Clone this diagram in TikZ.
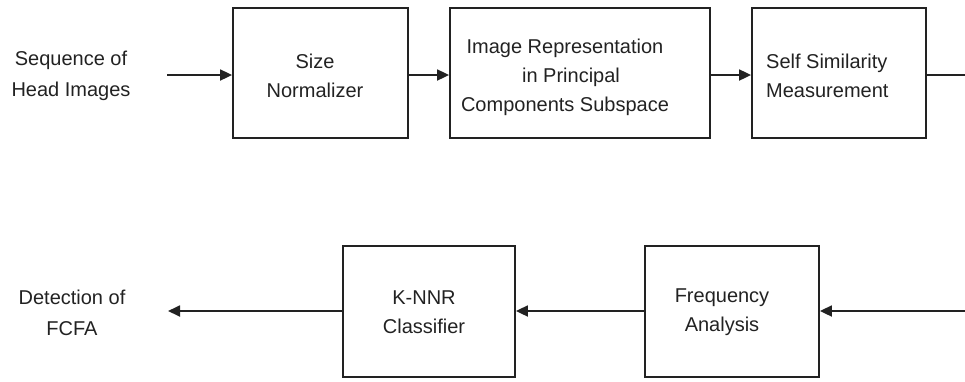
\documentclass[tikz,border=0pt]{standalone}
\usepackage{fontspec}
\setmainfont{Liberation Sans}
\usetikzlibrary{arrows.meta}
\definecolor{ink}{HTML}{222222}
\begin{document}
\begin{tikzpicture}[x=1pt,y=-1pt,
  box/.style={draw=ink, line width=1.8pt, minimum width=#1, minimum height=130pt, inner sep=0pt},
  txt/.style={align=center, inner sep=0pt, font=\fontsize{20}{29}\selectfont, text=ink},
  lbl/.style={align=center, inner sep=0pt, font=\fontsize{20}{31}\selectfont, text=ink},
  conn/.style={draw=ink, line width=1.8pt, -{Triangle[length=12pt,width=11pt]}},
  plain/.style={draw=ink, line width=1.8pt}]
\useasboundingbox (0,0) rectangle (965,381);

% top row
\node[box=175pt] (norm) at (320.5,73) {};
\node[txt] (normt) at (315,76) {Size\\Normalizer};
\node[box=260pt] (pca) at (580,73) {};
\node[txt] (pcat) at (565,77) {Image Representation\\\hspace*{12pt}in Principal\\Components Subspace};
\node[box=174pt] (self) at (839,73) {};
\node[txt, align=left, anchor=west] (selft) at (766,76) {Self Similarity\\Measurement};
\node[lbl] (seq) at (71,76) {Sequence of\\Head Images};

% bottom row
\node[box=172pt, minimum height=131pt] (knn) at (429,311.5) {};
\node[txt] (knnt) at (424,312.5) {K-NNR\\Classifier};
\node[box=174pt, minimum height=131pt] (freq) at (732,311.5) {};
\node[txt] (freqt) at (722,312.5) {Frequency\\Analysis};
\node[lbl] (det) at (72,312.5) {Detection of\\FCFA};

% free ends
\coordinate (in) at (167,75);
\coordinate (outr) at (966,75);
\coordinate (inr) at (966,311);
\coordinate (outl) at (168,311);

\draw[conn] (in) -- (in -| norm.west);
\draw[conn] (norm.east |- in) -- (in -| pca.west);
\draw[conn] (pca.east |- in) -- (in -| self.west);
\draw[plain] (self.east |- in) -- (outr);
\draw[conn] (inr) -- (inr -| freq.east);
\draw[conn] (freq.west |- inr) -- (inr -| knn.east);
\draw[conn] (knn.west |- inr) -- (outl);
\end{tikzpicture}
\end{document}
